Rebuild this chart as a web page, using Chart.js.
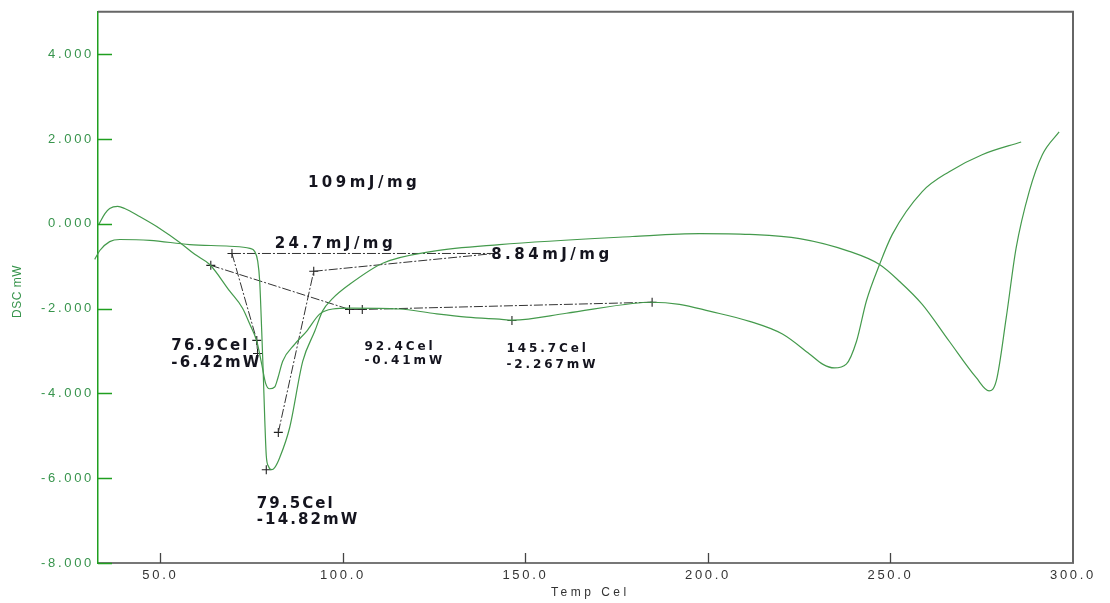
<!DOCTYPE html>
<html>
<head>
<meta charset="utf-8">
<script src="https://cdn.jsdelivr.net/npm/chart.js@4"></script>
<style>
  html, body { margin: 0; padding: 0; background: #fff; }
  #wrap { width: 1110px; height: 603px; position: relative; }
</style>
</head>
<body>
<div id="wrap"><canvas id="dscChart"></canvas></div>
<script>
// ===== DSC curves (Temp Cel vs DSC mW) =====

const xTicks = [50, 100, 150, 200, 250, 300];
const yTicks = [-8, -6, -4, -2, 0, 2, 4];

// run 1: shallow dip near 80 Cel, flat near -2, dip near 233
const runATemp = [33.1, 34.8, 36.1, 38.3, 40.2, 44.3, 49.8, 55.3, 59.4, 63.5, 69.0, 72.5, 74.5, 76.4, 77.75, 78.85, 79.9, 81.3, 82.2, 83.5, 86.8, 90.1, 93.6, 97.2, 101.8, 115.5, 124.5, 133.9, 142.9, 146.5, 161.2, 179.3, 184.5, 192.2, 200.4, 211.4, 220.4, 227.8, 231.4, 234.6, 237.9, 240.7, 243.4, 247.0, 250.5, 258.7, 266.1, 275.1, 285.8];
const runAVal = [-0.02, 0.24, 0.36, 0.41, 0.36, 0.17, -0.11, -0.44, -0.72, -0.96, -1.59, -1.99, -2.37, -2.77, -3.31, -3.77, -3.89, -3.85, -3.63, -3.24, -2.84, -2.53, -2.13, -2.01, -1.99, -2.01, -2.11, -2.20, -2.25, -2.27, -2.11, -1.88, -1.85, -1.90, -2.06, -2.30, -2.60, -3.07, -3.31, -3.40, -3.31, -2.77, -1.82, -0.96, -0.25, 0.76, 1.23, 1.63, 1.93];

// run 2: deep melt peak near 80 Cel, dip near 277
const runBTemp = [32.0, 33.4, 36.1, 38.9, 47.1, 58.0, 69.0, 74.5, 75.8, 76.65, 77.2, 77.75, 78.15, 78.6, 79.0, 79.65, 80.5, 81.3, 82.7, 85.4, 89.0, 92.3, 94.4, 97.2, 101.8, 110.9, 124.5, 142.9, 179.3, 197.7, 211.4, 225.1, 238.7, 247.0, 252.5, 258.7, 266.1, 273.5, 277.0, 279.0, 281.7, 284.4, 288.0, 291.6, 296.2];
const runBVal = [-0.84, -0.63, -0.42, -0.37, -0.39, -0.49, -0.53, -0.58, -0.65, -0.88, -1.36, -2.53, -3.47, -4.65, -5.47, -5.73, -5.80, -5.75, -5.51, -4.81, -3.24, -2.53, -2.06, -1.76, -1.43, -0.93, -0.65, -0.49, -0.30, -0.23, -0.25, -0.35, -0.65, -0.96, -1.36, -1.90, -2.77, -3.63, -3.94, -3.70, -2.22, -0.58, 0.76, 1.63, 2.17];

// integration baselines
const base1Temp = [69.6, 141.5];
const base1Val = [-0.70, -0.70];
const base2Temp = [69.6, 76.4, 76.6];
const base2Val = [-0.70, -2.75, -3.06];
const base3Temp = [63.8, 101.8, 105.3, 184.7];
const base3Val = [-0.98, -2.02, -2.02, -1.85];
const base4Temp = [82.3, 92.0, 141.5];
const base4Val = [-4.92, -1.12, -0.70];

// "+" markers
const markTemp = [63.8, 69.6, 76.4, 76.6, 79.0, 82.3, 92.0, 101.8, 105.3, 146.3, 184.7];
const markVal = [-0.98, -0.70, -2.75, -3.06, -5.80, -4.92, -1.12, -2.02, -2.02, -2.28, -1.85];

// annotation texts, anchored at (temp, val) = left / middle of the text
const heatText = ['109mJ/mg', '24.7mJ/mg', '8.84mJ/mg'];
const heatTemp = [90.4, 81.3, 140.6];
const heatVal = [0.97, -0.49, -0.74];

const peakText = ['76.9Cel', '-6.42mW', '79.5Cel', '-14.82mW'];
const peakTemp = [53.0, 53.0, 76.4, 76.4];
const peakVal = [-2.88, -3.28, -6.60, -7.00];

const minorText = ['92.4Cel', '-0.41mW', '145.7Cel', '-2.267mW'];
const minorTemp = [105.9, 105.9, 144.8, 144.8];
const minorVal = [-2.91, -3.24, -2.95, -3.33];

const zip = (xs, ys) => xs.map((x, i) => ({ x, y: ys[i] }));

const GREEN_LINE = '#449a4c';
const AXIS_GREEN = '#1f9f1f';
const LABEL_GREEN = '#37944c';

function curve(label, xs, ys) {
  return {
    label, data: zip(xs, ys), showLine: true, borderColor: GREEN_LINE, borderWidth: 1.2,
    pointRadius: 0, cubicInterpolationMode: 'monotone', clip: false
  };
}
function baseline(label, xs, ys) {
  return {
    label, data: zip(xs, ys), showLine: true, borderColor: '#333', borderWidth: 1,
    borderDash: [9, 2, 2, 2], pointRadius: 0, tension: 0
  };
}

function drawNotes(ctx, x, y, texts, temps, vals, font, spacing) {
  ctx.font = font;
  ctx.letterSpacing = spacing;
  texts.forEach((txt, i) => {
    ctx.fillText(txt, x.getPixelForValue(temps[i]), y.getPixelForValue(vals[i]));
  });
}

const dscDecor = {
  id: 'dscDecor',
  beforeDraw(chart) {
    chart.ctx.letterSpacing = '2.7px';
  },
  afterDraw(chart) {
    const { ctx, chartArea: a, scales: { x, y } } = chart;
    ctx.save();
    ctx.letterSpacing = '0px';
    // frame top / right
    ctx.strokeStyle = '#666';
    ctx.lineWidth = 2;
    ctx.beginPath();
    ctx.moveTo(a.left, a.top); ctx.lineTo(a.right, a.top); ctx.lineTo(a.right, a.bottom);
    ctx.stroke();
    // inward ticks
    ctx.lineWidth = 1.5;
    ctx.strokeStyle = AXIS_GREEN;
    yTicks.forEach(v => {
      const py = Math.round(y.getPixelForValue(v)) + 0.5;
      ctx.beginPath(); ctx.moveTo(a.left, py); ctx.lineTo(a.left + 14, py); ctx.stroke();
    });
    ctx.strokeStyle = '#444';
    ctx.lineWidth = 1.3;
    xTicks.slice(0, -1).forEach(t => {
      const px = Math.round(x.getPixelForValue(t)) + 0.5;
      ctx.beginPath(); ctx.moveTo(px, a.bottom); ctx.lineTo(px, a.bottom - 10); ctx.stroke();
    });
    // axis titles
    ctx.fillStyle = '#333';
    ctx.font = '12px "Liberation Sans", Arial, sans-serif';
    ctx.letterSpacing = '3.5px';
    ctx.textAlign = 'left';
    ctx.textBaseline = 'middle';
    ctx.fillText('Temp Cel', 551, 593);
    ctx.save();
    ctx.translate(18, (a.top + a.bottom) / 2 + 4);
    ctx.rotate(-Math.PI / 2);
    ctx.letterSpacing = '0.5px';
    ctx.textAlign = 'center';
    ctx.fillStyle = LABEL_GREEN;
    ctx.font = '12px "Liberation Sans", Arial, sans-serif';
    ctx.fillText('DSC mW', 0, 0);
    ctx.restore();
    // annotations
    ctx.fillStyle = '#14141e';
    ctx.textAlign = 'left';
    ctx.textBaseline = 'middle';
    drawNotes(ctx, x, y, heatText, heatTemp, heatVal, 'bold 15px "DejaVu Sans", Verdana, sans-serif', '3.5px');
    drawNotes(ctx, x, y, peakText, peakTemp, peakVal, 'bold 15px "DejaVu Sans", Verdana, sans-serif', '2.1px');
    drawNotes(ctx, x, y, minorText, minorTemp, minorVal, 'bold 12px "DejaVu Sans", Verdana, sans-serif', '2.9px');
    ctx.restore();
  }
};

const ctx = document.getElementById('dscChart').getContext('2d');
new Chart(ctx, {
  type: 'scatter',
  data: {
    datasets: [
      curve('run A', runATemp, runAVal),
      curve('run B', runBTemp, runBVal),
      baseline('base 1', base1Temp, base1Val),
      baseline('base 2', base2Temp, base2Val),
      baseline('base 3', base3Temp, base3Val),
      baseline('base 4', base4Temp, base4Val),
      {
        label: 'marks', data: zip(markTemp, markVal), showLine: false,
        pointStyle: 'cross', pointRadius: 4.5, borderColor: '#222', borderWidth: 1.1, backgroundColor: '#222'
      }
    ]
  },
  options: {
    responsive: true,
    maintainAspectRatio: false,
    animation: false,
    layout: { padding: { top: 10, right: 37, bottom: 0, left: 0 } },
    plugins: { legend: { display: false }, tooltip: { enabled: false } },
    scales: {
      x: {
        type: 'linear', min: 32.9, max: 300,
        afterFit: s => { s.height = 40; },
        afterBuildTicks: s => { s.ticks = xTicks.map(v => ({ value: v })); },
        grid: { display: false, drawTicks: false },
        border: { color: '#777', width: 2 },
        ticks: {
          padding: 5, color: '#333', maxRotation: 0, autoSkip: false,
          font: { family: 'Liberation Sans', size: 13 },
          callback: v => Number(v).toFixed(1)
        }
      },
      y: {
        type: 'linear', min: -8, max: 5,
        afterFit: s => { s.width = 98; },
        afterBuildTicks: s => { s.ticks = yTicks.map(v => ({ value: v })); },
        grid: { display: false, drawTicks: false },
        border: { color: AXIS_GREEN, width: 1.5 },
        ticks: {
          padding: 4, color: LABEL_GREEN, autoSkip: false,
          font: { family: 'Liberation Sans', size: 13 },
          callback: v => Number(v).toFixed(3)
        }
      }
    }
  },
  plugins: [dscDecor]
});
</script>
</body>
</html>
